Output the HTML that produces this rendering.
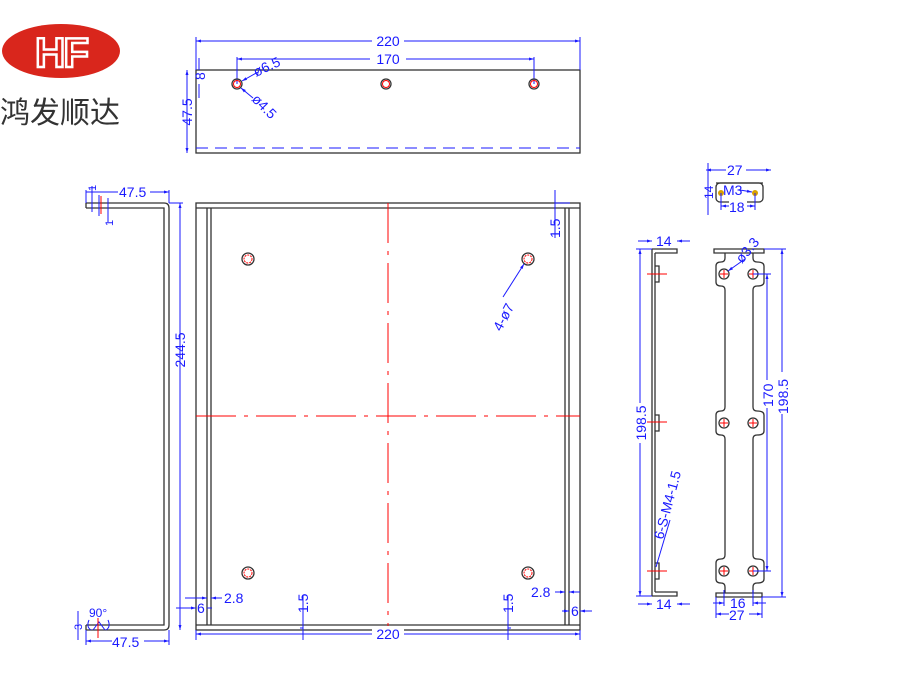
<!DOCTYPE html>
<html><head><meta charset="utf-8"><style>
html,body{margin:0;padding:0;background:#fff;width:900px;height:696px;overflow:hidden}
svg{display:block}
.k{stroke:#333;stroke-width:1.3;fill:none}
.b{stroke:#1a1aff;stroke-width:1;fill:none}
.r{stroke:#f00;stroke-width:1;fill:none}
text{font-family:"Liberation Sans",sans-serif;fill:#1a1aff;font-size:14px}
</style></head><body>
<svg width="900" height="696" viewBox="0 0 900 696">
<defs>
<marker id="a" viewBox="0 0 10 10" refX="10" refY="5" markerWidth="7" markerHeight="5" orient="auto-start-reverse"><path d="M0,2 L10,5 L0,8z" fill="#1a1aff"/></marker>
</defs>
<ellipse cx="61" cy="51" rx="59" ry="27" fill="#d9261c"/>
<text x="61" y="67" text-anchor="middle" style="font-size:42px;font-weight:bold;fill:none;stroke:#fff;stroke-width:2.5;letter-spacing:-2px">HF</text>
<text x="0" y="123" style="fill:#333;font-size:30px;font-family:'Liberation Sans','Noto Sans CJK SC',sans-serif">鸿发顺达</text>

<rect x="196" y="70" width="384" height="83" class="k"/>
<line x1="196" y1="148" x2="580" y2="148" stroke="#1a1aff" stroke-dasharray="12,7"/>
<line x1="196" y1="41" x2="580" y2="41" class="b" marker-start="url(#a)" marker-end="url(#a)"/>
<line x1="196" y1="37" x2="196" y2="70" class="b"/><line x1="580" y1="37" x2="580" y2="70" class="b"/>
<rect x="372" y="34" width="32" height="14" fill="#fff"/><text x="388" y="46" text-anchor="middle">220</text>
<line x1="237" y1="59" x2="534" y2="59" class="b" marker-start="url(#a)" marker-end="url(#a)"/>
<line x1="237" y1="57" x2="237" y2="84" class="b"/><line x1="534" y1="57" x2="534" y2="84" class="b"/>
<rect x="370" y="52" width="36" height="14" fill="#fff"/><text x="388" y="64" text-anchor="middle">170</text>
<line x1="187" y1="70" x2="187" y2="153" class="b" marker-start="url(#a)" marker-end="url(#a)"/>
<text transform="translate(192,112) rotate(-90)" text-anchor="middle">47.5</text>
<line x1="199" y1="58" x2="199" y2="70" class="b"/>
<line x1="199" y1="84" x2="199" y2="98" class="b"/>
<text transform="translate(205,80) rotate(-90)">8</text>
<line x1="242" y1="81" x2="258" y2="72" class="b" marker-start="url(#a)"/>
<text transform="translate(256,77) rotate(-25)">ø6.5</text>
<line x1="241" y1="88" x2="253" y2="98" class="b" marker-start="url(#a)"/>
<text transform="translate(251,100) rotate(45)">ø4.5</text>
<circle cx="237" cy="84" r="5" class="k"/><circle cx="237" cy="84" r="3.5" class="r"/>
<circle cx="386" cy="84" r="5" class="k"/><circle cx="386" cy="84" r="3.5" class="r"/>
<circle cx="534" cy="84" r="5" class="k"/><circle cx="534" cy="84" r="3.5" class="r"/>

<path d="M86,203 H164 Q169,203 169,208 V625 Q169,630 164,630 H86" class="k"/>
<path d="M86,208 H164 V625 H86" class="k"/>
<line x1="86" y1="203" x2="86" y2="208" class="k"/><line x1="86" y1="625" x2="86" y2="630" class="k"/>
<line x1="180" y1="203" x2="180" y2="630" class="b" marker-start="url(#a)" marker-end="url(#a)"/>
<line x1="169" y1="203" x2="183" y2="203" class="b"/>
<text transform="translate(185,350) rotate(-90)" text-anchor="middle">244.5</text>
<line x1="86" y1="192" x2="169" y2="192" class="b" marker-end="url(#a)"/>
<line x1="86" y1="190" x2="86" y2="203" class="b"/><line x1="169" y1="190" x2="169" y2="203" class="b"/>
<rect x="118" y="184" width="32" height="14" fill="#fff"/><text x="119" y="197">47.5</text>
<line x1="92" y1="186" x2="92" y2="212" class="b"/><line x1="99" y1="195" x2="99" y2="216" class="b"/><line x1="108" y1="198" x2="108" y2="222" class="b"/>
<text transform="translate(96,191) rotate(-90)" style="font-size:11px">1</text>
<text transform="translate(113,226) rotate(-90)" style="font-size:11px">1</text>
<line x1="101" y1="196" x2="101" y2="214" class="r"/>
<line x1="86" y1="641" x2="169" y2="641" class="b" marker-start="url(#a)" marker-end="url(#a)"/>
<line x1="86" y1="630" x2="86" y2="645" class="b"/><line x1="169" y1="630" x2="169" y2="645" class="b"/>
<rect x="112" y="634" width="32" height="14" fill="#fff"/><text x="112" y="647">47.5</text>
<line x1="78" y1="611" x2="78" y2="640" class="b"/><text transform="translate(82,630) rotate(-90)" style="font-size:11px">3</text>
<text x="89" y="617" style="font-size:12px">90°</text>
<path d="M89,620 Q86,627 91,630 M108,620 Q111,627 106,630 M93,630 L99,622 L105,630" class="b"/>
<line x1="98" y1="618" x2="98" y2="638" class="r"/>

<rect x="196" y="203" width="384" height="427" class="k"/>
<path d="M196,208 H580 M196,625 H580" class="k"/>
<path d="M207,208 V625 M211,208 V625 M565,208 V625 M569,208 V625" class="k"/>
<line x1="388" y1="203" x2="388" y2="630" class="r" stroke-dasharray="40,8,4,8"/>
<line x1="196" y1="416" x2="580" y2="416" class="r" stroke-dasharray="40,8,4,8"/>
<circle cx="248" cy="259" r="6" class="k"/><circle cx="248" cy="259" r="4" class="r" stroke-dasharray="2,1"/>
<circle cx="528" cy="259" r="6" class="k"/><circle cx="528" cy="259" r="4" class="r" stroke-dasharray="2,1"/>
<circle cx="248" cy="573" r="6" class="k"/><circle cx="248" cy="573" r="4" class="r" stroke-dasharray="2,1"/>
<circle cx="528" cy="573" r="6" class="k"/><circle cx="528" cy="573" r="4" class="r" stroke-dasharray="2,1"/>
<line x1="503" y1="297" x2="524" y2="264" class="b" marker-end="url(#a)"/>
<text transform="translate(501,332) rotate(-62)">4-ø7</text>
<line x1="555" y1="190" x2="555" y2="238" class="b"/><line x1="555" y1="203" x2="570" y2="203" class="b"/>
<text transform="translate(560,238) rotate(-90)">1.5</text>
<line x1="196" y1="634" x2="580" y2="634" class="b" marker-start="url(#a)" marker-end="url(#a)"/>
<line x1="196" y1="630" x2="196" y2="640" class="b"/><line x1="580" y1="630" x2="580" y2="640" class="b"/>
<rect x="372" y="626" width="32" height="14" fill="#fff"/><text x="388" y="639" text-anchor="middle">220</text>
<path d="M303,595 V640 M508,595 V640" class="b"/>
<path d="M300,628 H303 M508,628 H511" class="b"/>
<text transform="translate(308,613) rotate(-90)">1.5</text>
<text transform="translate(513,613) rotate(-90)">1.5</text>
<line x1="185" y1="598" x2="207" y2="598" class="b" marker-end="url(#a)"/><line x1="211" y1="598" x2="222" y2="598" class="b" marker-start="url(#a)"/>
<text x="224" y="603">2.8</text>
<line x1="176" y1="608" x2="196" y2="608" class="b" marker-end="url(#a)"/><line x1="207" y1="608" x2="212" y2="608" class="b"/>
<text x="197" y="613">6</text>
<line x1="555" y1="592" x2="565" y2="592" class="b" marker-end="url(#a)"/><line x1="569" y1="592" x2="580" y2="592" class="b" marker-start="url(#a)"/>
<text x="531" y="597">2.8</text>
<line x1="562" y1="611" x2="569" y2="611" class="b" marker-end="url(#a)"/><line x1="580" y1="611" x2="592" y2="611" class="b" marker-start="url(#a)"/>
<text x="571" y="616">6</text>

<line x1="716" y1="183" x2="763" y2="183" class="k"/>
<rect x="716" y="183" width="47" height="19" rx="4" class="k"/>
<circle cx="721" cy="193" r="3" fill="#d8a000"/><circle cx="755" cy="193" r="3" fill="#d8a000"/>
<line x1="706" y1="170" x2="771" y2="170" class="b" marker-start="url(#a)" marker-end="url(#a)"/>
<rect x="726" y="163" width="20" height="12" fill="#fff"/><text x="727" y="175">27</text>
<line x1="721" y1="206" x2="755" y2="206" class="b" marker-start="url(#a)" marker-end="url(#a)"/>
<line x1="721" y1="193" x2="721" y2="210" class="b"/><line x1="755" y1="193" x2="755" y2="210" class="b"/>
<rect x="729" y="200" width="18" height="12" fill="#fff"/><text x="729" y="212">18</text>
<line x1="708" y1="163" x2="708" y2="215" class="b"/>
<text transform="translate(713,199) rotate(-90)" style="font-size:12px">14</text>
<text x="723" y="195">M3</text><line x1="740" y1="190" x2="752" y2="192" class="b" marker-end="url(#a)"/>

<path d="M652,249 V596 M655,253 V592 M652,249 H677 V253 H655 M652,596 H677 V592 H655" class="k"/>
<path d="M655,266 H659 V282 H655 M655,415 H659 V431 H655 M655,563 H659 V579 H655" class="k"/>
<path d="M647,274 H667 M647,422 H667 M647,571 H667" class="r"/>
<line x1="640" y1="249" x2="640" y2="596" class="b" marker-start="url(#a)" marker-end="url(#a)"/>
<path d="M636,249 H652 M636,596 H652" class="b"/>
<rect x="633" y="403" width="14" height="40" fill="#fff"/>
<text transform="translate(646,423) rotate(-90)" text-anchor="middle">198.5</text>
<line x1="638" y1="241" x2="652" y2="241" class="b" marker-end="url(#a)"/><line x1="677" y1="241" x2="690" y2="241" class="b" marker-start="url(#a)"/>
<text x="656" y="246">14</text>
<line x1="638" y1="604" x2="652" y2="604" class="b" marker-end="url(#a)"/><line x1="677" y1="604" x2="690" y2="604" class="b" marker-start="url(#a)"/>
<text x="656" y="609">14</text>
<line x1="656" y1="567" x2="670" y2="520" class="b"/>
<text transform="translate(663,540) rotate(-75)">6-S-M4-1.5</text>

<path d="M714,249 H764 V253 H714 Z" class="k"/>
<path d="M725,253 V258 Q725,262 721,262 Q716,262 716,266 V282 Q716,286 721,286 Q725,286 725,290 V407 Q725,411 721,411 Q716,411 716,415 V431 Q716,435 721,435 Q725,435 725,439 V555 Q725,559 721,559 Q716,559 716,563 V579 Q716,583 721,583 Q725,583 725,587 V593" class="k"/>
<path d="M753,253 V258 Q753,262 757,262 Q764,262 764,266 V282 Q764,286 757,286 Q753,286 753,290 V407 Q753,411 757,411 Q764,411 764,415 V431 Q764,435 757,435 Q753,435 753,439 V555 Q753,559 757,559 Q764,559 764,563 V579 Q764,583 757,583 Q753,583 753,587 V593" class="k"/>
<path d="M716,593 H762 V597 H716 Z" class="k"/>
<g class="k">
<circle cx="724" cy="274" r="5"/><circle cx="753" cy="274" r="5"/>
<circle cx="724" cy="423" r="5"/><circle cx="753" cy="423" r="5"/>
<circle cx="724" cy="571" r="5"/><circle cx="753" cy="571" r="5"/>
</g>
<path class="r" d="M720,274h8M724,270v8M749,274h8M753,270v8M720,423h8M724,419v8M749,423h8M753,419v8M720,571h8M724,567v8M749,571h8M753,567v8"/>
<line x1="728" y1="271" x2="745" y2="259" class="b" marker-start="url(#a)"/>
<text transform="translate(742,264) rotate(-50)">ø3.3</text>
<line x1="767" y1="274" x2="767" y2="571" class="b" marker-start="url(#a)" marker-end="url(#a)"/>
<path d="M753,274 H771 M753,571 H771" class="b"/>
<rect x="760" y="380" width="14" height="28" fill="#fff"/>
<text transform="translate(773,407) rotate(-90)">170</text>
<line x1="782" y1="249" x2="782" y2="597" class="b" marker-start="url(#a)" marker-end="url(#a)"/>
<path d="M764,249 H786 M762,597 H786" class="b"/>
<rect x="775" y="372" width="14" height="42" fill="#fff"/>
<text transform="translate(788,414) rotate(-90)">198.5</text>
<line x1="713" y1="603" x2="724" y2="603" class="b" marker-end="url(#a)"/><line x1="753" y1="603" x2="766" y2="603" class="b" marker-start="url(#a)"/>
<path d="M724,590 V606 M753,590 V606" class="b"/>
<text x="730" y="608">16</text>
<line x1="716" y1="614" x2="762" y2="614" class="b" marker-start="url(#a)" marker-end="url(#a)"/>
<path d="M716,597 V618 M762,597 V618" class="b"/>
<rect x="729" y="608" width="20" height="12" fill="#fff"/><text x="729" y="620">27</text>
</svg>
</body></html>
